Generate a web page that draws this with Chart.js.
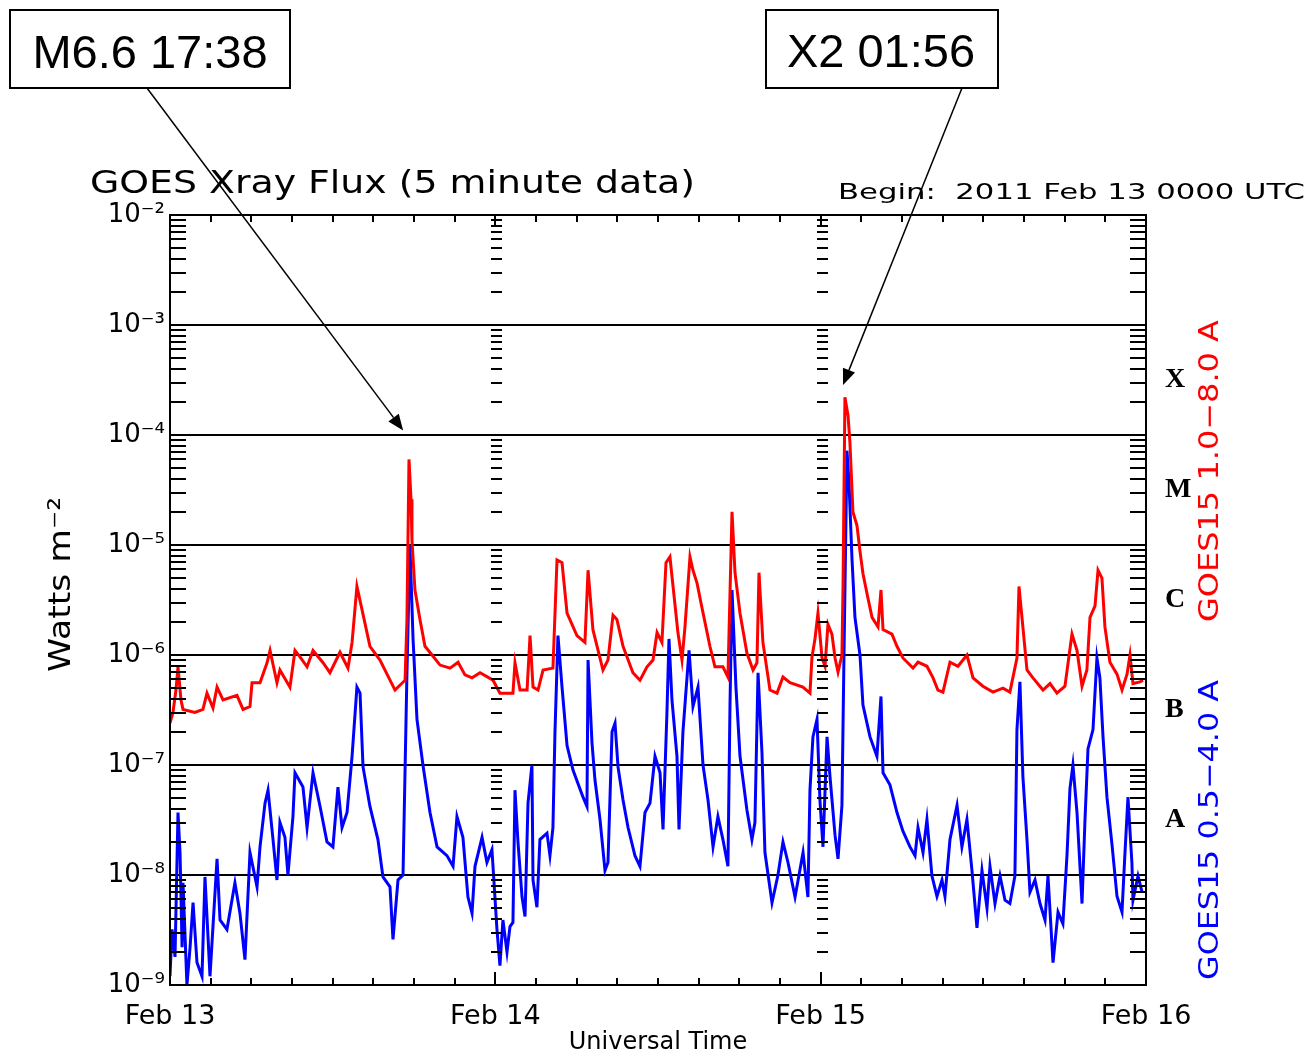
<!DOCTYPE html>
<html><head><meta charset="utf-8">
<style>html,body{margin:0;padding:0;background:#fff;}canvas{display:block;}</style>
<script src="https://cdn.jsdelivr.net/npm/chart.js@4.4.1/dist/chart.umd.min.js"></script>
</head><body>
<canvas id="c" width="1310" height="1057"></canvas>
<script>
// Hours since 2011 Feb 13 00:00 UTC, GOES15 1.0-8.0 A (W m^-2)
const redHours = [
 0.00,0.22,0.44,0.59,0.81,0.96,1.84,2.43,2.73,3.17,
 3.47,3.91,4.94,5.39,5.90,6.05,6.64,7.16,7.38,7.89,
 8.11,8.85,9.22,9.59,10.11,10.55,11.29,11.80,12.54,13.13,
 13.43,13.79,14.16,14.75,15.49,16.23,16.60,17.34,17.48,17.63,
 17.78,17.85,18.07,18.44,18.81,19.33,19.92,20.66,21.25,21.76,
 22.28,22.87,23.83,24.34,25.30,25.45,25.82,26.34,26.56,26.78,
 27.15,27.52,28.25,28.55,28.92,29.29,30.02,30.61,30.84,31.20,
 31.94,32.31,32.68,32.97,33.42,34.15,34.67,35.19,35.63,35.93,
 36.29,36.59,36.88,37.11,37.47,37.77,37.99,38.36,38.58,38.88,
 39.24,39.83,40.20,40.79,41.16,41.46,41.68,42.05,42.56,43.01,
 43.30,43.45,43.74,44.26,44.78,45.22,45.74,46.69,47.21,47.36,
 47.58,47.80,48.10,48.32,48.54,48.83,49.06,49.28,49.57,49.65,
 49.79,50.02,50.16,50.38,50.68,50.90,51.12,51.42,51.79,52.23,
 52.45,52.60,53.26,53.63,54.07,54.81,55.18,55.84,56.29,56.65,
 57.02,57.54,58.13,58.79,59.24,59.97,60.71,61.45,61.96,62.48,
 62.63,62.85,63.22,63.66,64.40,64.92,65.43,66.02,66.54,66.91,
 67.28,67.64,67.87,68.24,68.46,68.75,68.97,69.34,69.86,70.23,
 70.60,70.82,71.04,71.56,71.78
];
const redFlux = [
 2.4e-7,3.0e-7,4.8e-7,7.8e-7,3.9e-7,3.2e-7,3.0e-7,3.2e-7,4.5e-7,3.3e-7,
 5.1e-7,3.9e-7,4.3e-7,3.2e-7,3.4e-7,5.6e-7,5.6e-7,8.5e-7,1.1e-6,5.6e-7,
 7.3e-7,5.1e-7,1.1e-6,9.6e-7,7.8e-7,1.1e-6,8.5e-7,6.9e-7,1.06e-6,7.6e-7,
 1.3e-6,4.2e-6,2.6e-6,1.2e-6,9.0e-7,5.9e-7,4.8e-7,5.9e-7,2.1e-6,6.0e-5,
 2.6e-5,1.1e-5,3.9e-6,2.1e-6,1.2e-6,1.0e-6,8.1e-7,7.6e-7,8.6e-7,6.6e-7,
 6.2e-7,6.9e-7,5.9e-7,4.5e-7,4.5e-7,8.5e-7,4.8e-7,4.8e-7,1.5e-6,5.1e-7,
 4.8e-7,7.3e-7,7.6e-7,7.3e-6,6.9e-6,2.4e-6,1.5e-6,1.3e-6,5.9e-6,1.7e-6,
 7.3e-7,9.0e-7,2.3e-6,2.1e-6,1.2e-6,6.9e-7,5.9e-7,7.8e-7,9.0e-7,1.6e-6,
 1.3e-6,6.9e-6,7.8e-6,4.2e-6,1.6e-6,9.0e-7,1.8e-6,7.8e-6,5.9e-6,4.5e-6,
 2.7e-6,1.2e-6,7.8e-7,7.8e-7,6.3e-7,2.0e-5,5.6e-6,2.4e-6,1.04e-6,7.3e-7,
 8.5e-7,5.6e-6,1.3e-6,4.8e-7,4.5e-7,6.3e-7,5.6e-7,5.1e-7,4.5e-7,9.6e-7,
 1.4e-6,2.4e-6,9.4e-7,7.9e-7,1.9e-6,1.55e-6,9.4e-7,7.0e-7,1.0e-6,4.2e-6,
 2.2e-4,1.5e-4,8.5e-5,2.0e-5,1.5e-5,8.8e-6,5.5e-6,3.6e-6,2.2e-6,1.8e-6,
 3.9e-6,1.7e-6,1.55e-6,1.2e-6,9.4e-7,7.6e-7,8.6e-7,7.9e-7,6.2e-7,4.8e-7,
 4.6e-7,8.6e-7,7.9e-7,1.0e-6,6.2e-7,5.2e-7,4.6e-7,5.0e-7,4.6e-7,9.4e-7,
 4.2e-6,2.2e-6,7.3e-7,6.2e-7,4.8e-7,5.5e-7,4.5e-7,5.2e-7,1.55e-6,1.1e-6,
 5.2e-7,7.3e-7,2.2e-6,2.8e-6,5.9e-6,5.0e-6,1.8e-6,8.6e-7,6.7e-7,4.8e-7,
 6.7e-7,1.0e-6,5.5e-7,5.7e-7,5.9e-7
];
// GOES15 0.5-4.0 A (W m^-2)
const blueHours = [
 0.00,0.15,0.37,0.59,0.74,0.89,0.96,1.25,1.48,1.70,
 1.99,2.36,2.58,2.95,3.47,3.69,4.20,4.79,5.16,5.53,
 5.90,6.42,6.64,7.01,7.23,7.60,7.89,8.11,8.48,8.70,
 9.07,9.22,9.81,10.11,10.55,11.07,11.58,12.02,12.39,12.69,
 13.06,13.43,13.79,14.02,14.24,14.75,15.34,15.71,16.23,16.45,
 16.82,17.19,17.48,17.70,17.93,18.22,18.66,19.18,19.70,20.43,
 20.88,21.17,21.61,21.98,22.28,22.50,23.02,23.38,23.75,24.12,
 24.34,24.56,24.86,25.08,25.30,25.45,25.67,25.97,26.19,26.41,
 26.70,26.78,27.07,27.29,27.81,28.03,28.25,28.40,28.62,28.92,
 29.29,29.73,30.47,30.76,30.84,31.13,31.35,31.72,32.09,32.31,
 32.61,32.83,33.05,33.42,33.79,34.30,34.67,35.04,35.41,35.78,
 36.15,36.37,36.66,36.81,37.03,37.40,37.55,37.84,38.29,38.58,
 38.95,39.32,39.69,40.06,40.42,40.79,41.16,41.31,41.46,41.75,
 42.05,42.56,42.93,43.15,43.38,43.67,43.89,44.41,44.85,45.22,
 45.59,46.11,46.70,47.06,47.21,47.43,47.73,47.95,48.17,48.47,
 48.69,49.06,49.28,49.57,49.72,49.94,50.09,50.31,50.53,50.90,
 51.12,51.64,52.15,52.45,52.60,53.11,53.63,54.07,54.59,54.96,
 55.18,55.55,55.84,56.21,56.58,56.95,57.17,57.54,58.06,58.42,
 58.79,59.16,59.53,59.90,60.27,60.49,60.86,61.23,61.60,61.96,
 62.33,62.48,62.70,62.92,63.22,63.44,63.81,64.18,64.55,64.77,
 65.14,65.51,65.87,66.17,66.39,66.61,66.91,67.28,67.50,67.72,
 68.09,68.38,68.60,68.83,69.12,69.49,69.86,70.23,70.45,70.67,
 70.96,71.04,71.41,71.71
];
const blueFlux = [
 1.2e-9,3.2e-9,1.8e-9,3.7e-8,1.6e-8,2.2e-9,8.5e-9,1.0e-9,2.2e-9,5.6e-9,
 1.6e-9,1.2e-9,9.6e-9,1.2e-9,1.4e-8,3.9e-9,3.2e-9,8.5e-9,4.5e-9,1.7e-9,
 1.6e-8,7.8e-9,1.8e-8,4.5e-8,5.9e-8,2.1e-8,9.0e-9,3.0e-8,2.2e-8,1.0e-8,
 3.4e-8,8.5e-8,6.3e-8,2.7e-8,8.5e-8,4.2e-8,2.0e-8,1.8e-8,6.3e-8,2.7e-8,
 3.7e-8,1.2e-7,5.1e-7,4.5e-7,9.6e-8,4.2e-8,2.1e-8,9.6e-9,7.8e-9,2.6e-9,
 9.0e-9,1.0e-8,6.9e-7,1.0e-5,1.4e-6,2.6e-7,1.0e-7,3.7e-8,1.8e-8,1.5e-8,
 1.2e-8,3.4e-8,2.2e-8,6.3e-9,4.5e-9,1.2e-8,2.2e-8,1.3e-8,1.7e-8,3.2e-9,
 1.5e-9,3.9e-9,2.0e-9,3.4e-9,3.7e-9,5.9e-8,2.0e-8,6.3e-9,4.2e-9,4.5e-8,
 1.0e-7,9.0e-9,5.1e-9,2.1e-8,2.4e-8,1.5e-8,2.7e-8,2.0e-7,1.5e-6,5.1e-7,
 1.5e-7,9.0e-8,5.1e-8,4.2e-8,9.0e-7,1.6e-7,7.3e-8,3.2e-8,1.1e-8,1.3e-8,
 2.0e-7,2.4e-7,9.6e-8,4.8e-8,2.7e-8,1.5e-8,1.2e-8,3.7e-8,4.5e-8,1.2e-7,
 8.5e-8,2.6e-8,3.0e-7,1.4e-6,3.9e-7,1.2e-7,2.6e-8,2.0e-7,1.1e-6,3.4e-7,
 5.1e-7,1.0e-7,4.8e-8,1.8e-8,3.4e-8,2.1e-8,1.2e-8,3.4e-7,3.9e-6,5.1e-7,
 1.2e-7,3.9e-8,2.1e-8,3.0e-8,6.9e-7,1.3e-7,1.6e-8,5.6e-9,1.0e-8,2.0e-8,
 1.3e-8,6.3e-9,1.6e-8,6.3e-9,5.9e-8,1.8e-7,2.6e-7,4.7e-8,1.8e-8,1.8e-7,
 7.8e-8,2.3e-8,1.4e-8,4.3e-8,1.0e-6,7.2e-5,3.7e-5,7.5e-6,2.2e-6,1.0e-6,
 3.5e-7,1.8e-7,1.2e-7,4.2e-7,8.5e-8,6.6e-8,3.7e-8,2.5e-8,1.8e-8,1.5e-8,
 2.7e-8,1.6e-8,3.2e-8,9.8e-9,6.4e-9,9.0e-9,6.4e-9,2.1e-8,4.3e-8,1.8e-8,
 3.2e-8,1.1e-8,3.3e-9,1.1e-8,5.0e-9,1.2e-8,5.5e-9,9.8e-9,5.9e-9,5.5e-9,
 9.8e-9,2.1e-7,5.7e-7,7.8e-8,2.1e-8,7.0e-9,9.0e-9,5.5e-9,3.9e-9,9.8e-9,
 1.6e-9,4.6e-9,3.6e-9,1.5e-8,6.1e-8,1.0e-7,3.7e-8,5.5e-9,3.2e-8,1.4e-7,
 2.1e-7,9.4e-7,6.2e-7,1.8e-7,5.1e-8,1.9e-8,6.4e-9,4.6e-9,1.6e-8,5.1e-8,
 1.3e-8,5.9e-9,9.8e-9,7.0e-9
];
const dayTicks = [0, 24, 48, 72];
const dayLabels = ['Feb 13', 'Feb 14', 'Feb 15', 'Feb 16'];
const hourTicks = [3,6,9,12,15,18,21,27,30,33,36,39,42,45,51,54,57,60,63,66,69];
const decadeTicks = [1e-9, 1e-8, 1e-7, 1e-6, 1e-5, 1e-4, 1e-3, 1e-2];
const decadeLabels = ['10⁻⁹','10⁻⁸','10⁻⁷','10⁻⁶','10⁻⁵','10⁻⁴','10⁻³','10⁻²'];
const minorMultipliers = [2,3,4,5,6,7,8,9];
const classTicks = [3.2e-8, 3.2e-7, 3.2e-6, 3.2e-5, 3.2e-4];
const classLabels = ['A', 'B', 'C', 'M', 'X'];
const chartTitle = 'GOES Xray Flux (5 minute data)';
const beginText = 'Begin:  2011 Feb 13 0000 UTC';
const redLabel = 'GOES15 1.0−8.0 A';
const blueLabel = 'GOES15 0.5−4.0 A';
const yTitle = 'Watts m⁻²';
const xTitle = 'Universal Time';
const flareNotes = [
  {text: 'M6.6 17:38', hour: 17.2, flux: 1.1e-4},
  {text: 'X2 01:56', hour: 49.65, flux: 2.85e-4}
];

function stretchText(ctx, text, x, y, font, length, color, angle) {
  ctx.save();
  ctx.font = font; ctx.fillStyle = color;
  ctx.textAlign = 'left'; ctx.textBaseline = 'alphabetic';
  const w = ctx.measureText(text).width;
  ctx.translate(x, y);
  if (angle) ctx.rotate(angle);
  ctx.scale(length / w, 1);
  ctx.fillText(text, 0, 0);
  ctx.restore();
}

const decor = {
  id: 'decor',
  afterDraw(chart) {
    const ctx = chart.ctx, ca = chart.chartArea;
    const xs = chart.scales.x, ys = chart.scales.y;
    ctx.save();
    ctx.strokeStyle = '#000'; ctx.lineWidth = 2; ctx.lineCap = 'butt';
    const dayXs = dayTicks.slice(1, -1).map(v => Math.round(xs.getPixelForValue(v)));
    ctx.beginPath();
    for (let i = 0; i < decadeTicks.length - 1; i++) {
      for (const m of minorMultipliers) {
        const y = Math.round(ys.getPixelForValue(decadeTicks[i] * m));
        ctx.moveTo(ca.left, y); ctx.lineTo(ca.left + 16, y);
        ctx.moveTo(ca.right - 16, y); ctx.lineTo(ca.right, y);
        for (const dx of dayXs) { ctx.moveTo(dx - 4, y); ctx.lineTo(dx + 7, y); }
      }
    }
    for (const dv of decadeTicks) {
      const y = Math.round(ys.getPixelForValue(dv));
      for (const dx of dayXs) { ctx.moveTo(dx - 4, y); ctx.lineTo(dx + 8, y); }
    }
    for (const h of hourTicks) {
      const x = Math.round(xs.getPixelForValue(h));
      ctx.moveTo(x, ca.bottom); ctx.lineTo(x, ca.bottom - 7);
      ctx.moveTo(x, ca.top); ctx.lineTo(x, ca.top + 7);
    }
    for (const dx of dayXs) {
      ctx.moveTo(dx, ca.bottom); ctx.lineTo(dx, ca.bottom - 13);
      ctx.moveTo(dx, ca.top); ctx.lineTo(dx, ca.top + 10);
    }
    ctx.stroke();
    ctx.strokeRect(ca.left, ca.top, ca.right - ca.left, ca.bottom - ca.top);
    ctx.restore();

    stretchText(ctx, chartTitle, 90, 193, '32px "DejaVu Sans"', 605, '#000');
    stretchText(ctx, beginText, 838, 199, '22px "DejaVu Sans"', 467, '#000');
    stretchText(ctx, yTitle, 70, 672, '31px "DejaVu Sans"', 175, '#000', -Math.PI / 2);
    stretchText(ctx, redLabel, 1218, 622, '27px "DejaVu Sans"', 302, '#ff0000', -Math.PI / 2);
    stretchText(ctx, blueLabel, 1218, 980, '27px "DejaVu Sans"', 300, '#0000ff', -Math.PI / 2);

    // annotation boxes and arrows
    const boxes = [
      {x: 10, y: 10, w: 280, h: 78, tx: 150, ty: 68, sx: 147, sy: 88},
      {x: 766, y: 10, w: 232, h: 78, tx: 881, ty: 67, sx: 962, sy: 88}
    ];
    ctx.save();
    boxes.forEach((b, i) => {
      const note = flareNotes[i];
      ctx.fillStyle = '#fff'; ctx.fillRect(b.x, b.y, b.w, b.h);
      ctx.strokeStyle = '#000'; ctx.lineWidth = 2; ctx.strokeRect(b.x, b.y, b.w, b.h);
      ctx.fillStyle = '#000'; ctx.font = '47px "Liberation Sans"';
      ctx.textAlign = 'center'; ctx.textBaseline = 'alphabetic';
      ctx.fillText(note.text, b.tx, b.ty);
      const tx = xs.getPixelForValue(note.hour), ty = ys.getPixelForValue(note.flux);
      const ang = Math.atan2(ty - b.sy, tx - b.sx);
      const L = 16, W = 6.5;
      const bx = tx - L * Math.cos(ang), by = ty - L * Math.sin(ang);
      ctx.lineWidth = 1.5;
      ctx.beginPath(); ctx.moveTo(b.sx, b.sy); ctx.lineTo(bx, by); ctx.stroke();
      ctx.beginPath();
      ctx.moveTo(tx, ty);
      ctx.lineTo(bx + W * Math.sin(ang), by - W * Math.cos(ang));
      ctx.lineTo(bx - W * Math.sin(ang), by + W * Math.cos(ang));
      ctx.closePath(); ctx.fill();
    });
    ctx.restore();
  }
};

new Chart(document.getElementById('c'), {
  type: 'line',
  data: {
    datasets: [
      {label: redLabel, data: redHours.map((h, i) => ({x: h, y: redFlux[i]})),
       borderColor: '#ff0000', borderWidth: 3, pointRadius: 0, tension: 0, yAxisID: 'y'},
      {label: blueLabel, data: blueHours.map((h, i) => ({x: h, y: blueFlux[i]})),
       borderColor: '#0000ff', borderWidth: 3, pointRadius: 0, tension: 0, yAxisID: 'y'}
    ]
  },
  options: {
    responsive: false, animation: false, devicePixelRatio: 1,
    layout: {padding: {top: 215, left: 0, right: 0, bottom: 0}},
    plugins: {legend: {display: false}, tooltip: {enabled: false}, title: {display: false}},
    scales: {
      x: {
        type: 'linear', min: 0, max: 72, position: 'bottom',
        grid: {display: false}, border: {display: false},
        afterBuildTicks: s => { s.ticks = dayTicks.map(v => ({value: v})); },
        afterFit: s => { s.height = 72; },
        ticks: {autoSkip: false, maxRotation: 0, padding: 8, color: '#000',
          font: {family: 'DejaVu Sans', size: 27},
          callback: v => { const i = dayTicks.indexOf(v); return i >= 0 ? dayLabels[i] : ''; }},
        title: {display: true, text: xTitle, color: '#000', padding: {top: 0, bottom: 0},
          font: {family: 'DejaVu Sans', size: 24}}
      },
      y: {
        type: 'logarithmic', min: 1e-9, max: 1e-2, position: 'left',
        grid: {color: '#000', lineWidth: 2, drawTicks: false}, border: {display: false},
        afterBuildTicks: s => { s.ticks = decadeTicks.map(v => ({value: v})); },
        afterFit: s => { s.width = 170; },
        ticks: {autoSkip: false, padding: 5, color: '#000',
          font: {family: 'DejaVu Sans', size: 26},
          callback: v => { const i = decadeTicks.findIndex(d => Math.abs(d - v) / d < 1e-6); return i >= 0 ? decadeLabels[i] : ''; }}
      },
      y2: {
        type: 'logarithmic', min: 1e-9, max: 1e-2, position: 'right',
        grid: {display: false}, border: {display: false},
        afterBuildTicks: s => { s.ticks = classTicks.map(v => ({value: v})); },
        afterFit: s => { s.width = 164; },
        ticks: {autoSkip: false, padding: 11, color: '#000',
          font: {family: 'Liberation Serif', size: 28, weight: 'bold'},
          callback: v => { const i = classTicks.findIndex(d => Math.abs(d - v) / d < 1e-6); return i >= 0 ? classLabels[i] : ''; }}
      }
    }
  },
  plugins: [decor]
});
</script>
</body></html>
